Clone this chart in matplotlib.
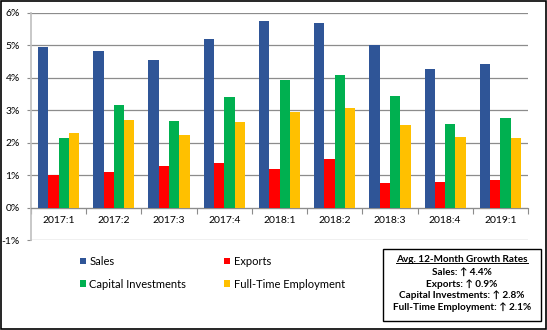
import numpy as np
import matplotlib
matplotlib.use('Agg')
import matplotlib.pyplot as plt
from matplotlib.patches import Patch, Rectangle
from matplotlib.lines import Line2D

plt.rcParams['font.family'] = ['Lato', 'DejaVu Sans']

quarters = ['2017:1', '2017:2', '2017:3', '2017:4', '2018:1',
            '2018:2', '2018:3', '2018:4', '2019:1']
sales = [4.93, 4.81, 4.54, 5.18, 5.73, 5.67, 5.01, 4.27, 4.43]
exports = [1.00, 1.10, 1.27, 1.37, 1.19, 1.48, 0.77, 0.79, 0.85]
capital = [2.13, 3.15, 2.66, 3.40, 3.93, 4.07, 3.42, 2.58, 2.77]
employment = [2.28, 2.70, 2.22, 2.62, 2.95, 3.08, 2.55, 2.18, 2.13]

series_names = ['Sales', 'Exports', 'Capital Investments', 'Full-Time Employment']
colors = ['#2F5597', '#FF0000', '#00B050', '#FFC000']

summary_title = 'Avg. 12-Month Growth Rates'
summary_lines = ['Sales: \u2191 4.4%', 'Exports: \u2191 0.9%',
                 'Capital Investments: \u2191 2.8%',
                 'Full-Time Employment: \u2191 2.1%']

fig = plt.figure(figsize=(5.47, 3.30), dpi=100)
ax = fig.add_axes([31 / 547, 1 - 240 / 330, 497 / 547, 227.3 / 330])

x = np.arange(len(quarters))
bar_w = 0.187
data = [sales, exports, capital, employment]
for i, (vals, col) in enumerate(zip(data, colors)):
    ax.bar(x + (i - 1.5) * bar_w, vals, width=bar_w, color=col,
           edgecolor='none', zorder=3)

ax.set_xlim(-0.5, len(quarters) - 0.5)
ax.set_ylim(-1, 6)
ax.set_yticks(np.arange(-1, 7))
ax.set_yticklabels([f'{v}%' for v in range(-1, 7)], fontsize=7.5)
ax.yaxis.grid(True, color='#8c8c8c', linewidth=0.9, zorder=0)
ax.tick_params(axis='y', length=3, color='#8c8c8c', pad=5)

# category axis drawn on the 0% line
ax.spines['bottom'].set_position(('data', 0))
ax.spines['bottom'].set_color('#8c8c8c')
ax.spines['left'].set_color('#bfbfbf')
ax.spines['left'].set_linewidth(1.2)
ax.spines['top'].set_visible(False)
ax.spines['right'].set_visible(False)
ax.set_xticks(np.arange(len(quarters) + 1) - 0.5)
ax.set_xticklabels([])
ax.tick_params(axis='x', which='major', length=4, color='#8c8c8c', direction='out')
ax.set_xticks(x, minor=True)
ax.set_xticklabels(quarters, minor=True, fontsize=7.5)
ax.tick_params(axis='x', which='minor', length=0, pad=6)

# legend fills column by column: Sales/Capital left, Exports/Employment right
order = [0, 2, 1, 3]
handles = [Patch(facecolor=colors[i], edgecolor='none') for i in order]
labels = [series_names[i] for i in order]
fig.legend(handles, labels, ncol=2, loc='upper left',
           bbox_to_anchor=(80 / 547, 1 - 256 / 330), frameon=False,
           fontsize=8, handlelength=0.55, handleheight=0.55,
           handletextpad=0.3, columnspacing=3.4, labelspacing=1.05,
           borderpad=0, borderaxespad=0)

# summary box
box = Rectangle((383 / 547, 1 - 321 / 330), 158 / 547, 72 / 330,
                transform=fig.transFigure, fill=False, edgecolor='black',
                linewidth=1.0)
fig.patches.append(box)
cx = 462 / 547
t = fig.text(cx, 1 - 260 / 330, summary_title, ha='center', va='center',
             fontsize=7.2, fontweight='bold')
for k, line in enumerate(summary_lines):
    fig.text(cx, 1 - (272.5 + 11.5 * k) / 330, line, ha='center', va='center',
             fontsize=7.2, fontweight='bold')

fig.canvas.draw()
bb = t.get_window_extent().transformed(fig.transFigure.inverted())
uy = bb.y0 + 0.12 * (bb.y1 - bb.y0)
fig.lines.append(Line2D([bb.x0, bb.x1], [uy, uy], transform=fig.transFigure,
                        color='black', linewidth=0.7))

# outer frame
fig.patches.append(Rectangle((0.001, 0.002), 0.997, 0.996, transform=fig.transFigure,
                             fill=False, edgecolor='black', linewidth=1.2))

fig.savefig('out.png', dpi=100)
